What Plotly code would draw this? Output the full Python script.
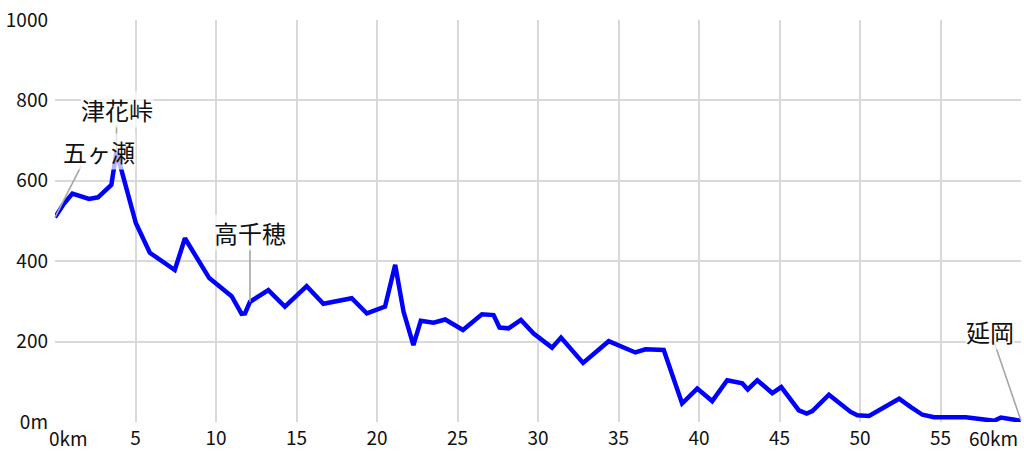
"""
Elevation profile: 五ヶ瀬 -> 延岡 (Plotly).
"""

import plotly.graph_objects as go

# ---------------------------------------------------------------------------
# Design tokens
# ---------------------------------------------------------------------------

LINE_BLUE = "#0000FF"
GRID      = "#D9D9D9"
LEADER    = "#A6A6A6"
TEXT      = "#111111"
FONT      = "Noto Sans CJK JP, Noto Sans, sans-serif"

# ---------------------------------------------------------------------------
# Data
# ---------------------------------------------------------------------------

distance_km = [
    0, 0.5, 1.08, 2.11, 2.67, 3.5, 3.82, 5.02, 5.89, 7.44,
    8.07, 9.58, 10.97, 11.59, 11.8, 12.11, 13.25, 14.28, 15.63, 16.67,
    18.43, 19.37, 20.5, 21.13, 21.65, 22.26, 22.72, 23.51, 24.24, 25.34,
    26.52, 27.24, 27.61, 28.17, 28.94, 29.73, 30.87, 31.43, 32.8, 34.39,
    36.05, 36.67, 37.81, 38.95, 39.89, 40.82, 41.75, 42.69, 43.03, 43.62,
    44.55, 45.11, 46.2, 46.69, 47.04, 48.07, 49.42, 49.84, 50.56, 51.49,
    52.43, 53.16, 53.88, 54.6, 56.57, 57.71, 58.33, 58.75, 59.17, 60.0,
]
elevation_m = [
    509, 540, 568, 555, 559, 590, 672, 495, 421, 378,
    457, 358, 313, 269, 270, 299, 328, 287, 338, 294,
    308, 270, 287, 391, 274, 191, 252, 247, 255, 229,
    268, 266, 235, 233, 254, 220, 185, 210, 147, 201,
    173, 181, 179, 46, 83, 52, 104, 96, 81, 104,
    72, 87, 29, 21, 27, 68, 25, 17, 15, 36,
    58, 37, 18, 12, 12, 6, 3, 11, 8, 3,
]

x_ticks = [0, 5, 10, 15, 20, 25, 30, 35, 40, 45, 50, 55, 60]
x_tick_text = ["", "5", "10", "15", "20", "25", "30", "35", "40", "45", "50", "55", ""]
y_ticks = [0, 200, 400, 600, 800, 1000]
y_tick_text = ["0m", "200", "400", "600", "800", "1000"]

# place name, km, elevation
place_names = ["津花峠", "五ヶ瀬", "高千穂", "延岡"]
place_km    = [3.82, 0, 12.11, 60.0]
place_elev  = [672, 509, 299, 3]
# pixel offsets: label centre, and where the leader line starts
label_dx = [0, 44, 0, -31]
label_dy = [-42, -66, -69, -89]
leader_dx = [0, 27, 0, -27]
leader_dy = [-28, -53, -55, -79]


fig = go.Figure()

fig.add_trace(go.Scatter(
    x=distance_km, y=elevation_m,
    mode="lines",
    line=dict(color=LINE_BLUE, width=4.5),
    showlegend=False,
    hoverinfo="skip",
))

annotations = []
for km, el, tx, ty in zip(place_km, place_elev, leader_dx, leader_dy):
    # leader line (empty text, arrow only)
    annotations.append(dict(
        x=km, y=el, xref="x", yref="y",
        text="", showarrow=True, arrowhead=0, arrowwidth=1.6,
        arrowcolor=LEADER, ax=tx, ay=ty, standoff=0,
    ))
for name, km, el, lx, ly in zip(place_names, place_km, place_elev, label_dx, label_dy):
    annotations.append(dict(
        x=km, y=el, xref="x", yref="y",
        text=name, showarrow=False,
        xshift=lx, yshift=-ly,
        font=dict(family=FONT, size=24, color=TEXT),
        bgcolor="rgba(255,255,255,0.7)", borderpad=0,
    ))

# end labels of the x axis
annotations.append(dict(
    x=0, y=0, xref="x", yref="paper", text="0km", showarrow=False,
    xanchor="left", yanchor="top", xshift=-8, yshift=0,
    font=dict(family=FONT, size=19, color=TEXT),
))
annotations.append(dict(
    x=60, y=0, xref="x", yref="paper", text="60km", showarrow=False,
    xanchor="right", yanchor="top", xshift=-1, yshift=0,
    font=dict(family=FONT, size=19, color=TEXT),
))

fig.update_layout(
    width=1024, height=455,
    paper_bgcolor="white",
    plot_bgcolor="white",
    font=dict(family=FONT, size=19, color=TEXT),
    margin=dict(l=55, r=3, t=20, b=33),
    annotations=annotations,
    xaxis=dict(
        range=[0, 60],
        tickvals=x_ticks, ticktext=x_tick_text,
        showgrid=True, gridcolor=GRID, gridwidth=1.5,
        zeroline=False, showline=False,
        ticks="", ticklabelstandoff=3,
        tickfont=dict(family=FONT, size=19, color=TEXT),
    ),
    yaxis=dict(
        range=[0, 1000],
        tickvals=y_ticks, ticktext=y_tick_text,
        showgrid=True, gridcolor=GRID, gridwidth=1.5,
        zeroline=False, showline=False,
        ticks="", ticklabelstandoff=6,
        tickfont=dict(family=FONT, size=19, color=TEXT),
    ),
)

fig.write_html(
    "out.html",
    config={"displayModeBar": False},
    post_script="document.body.style.margin='0';document.body.style.overflow='hidden';",
)
